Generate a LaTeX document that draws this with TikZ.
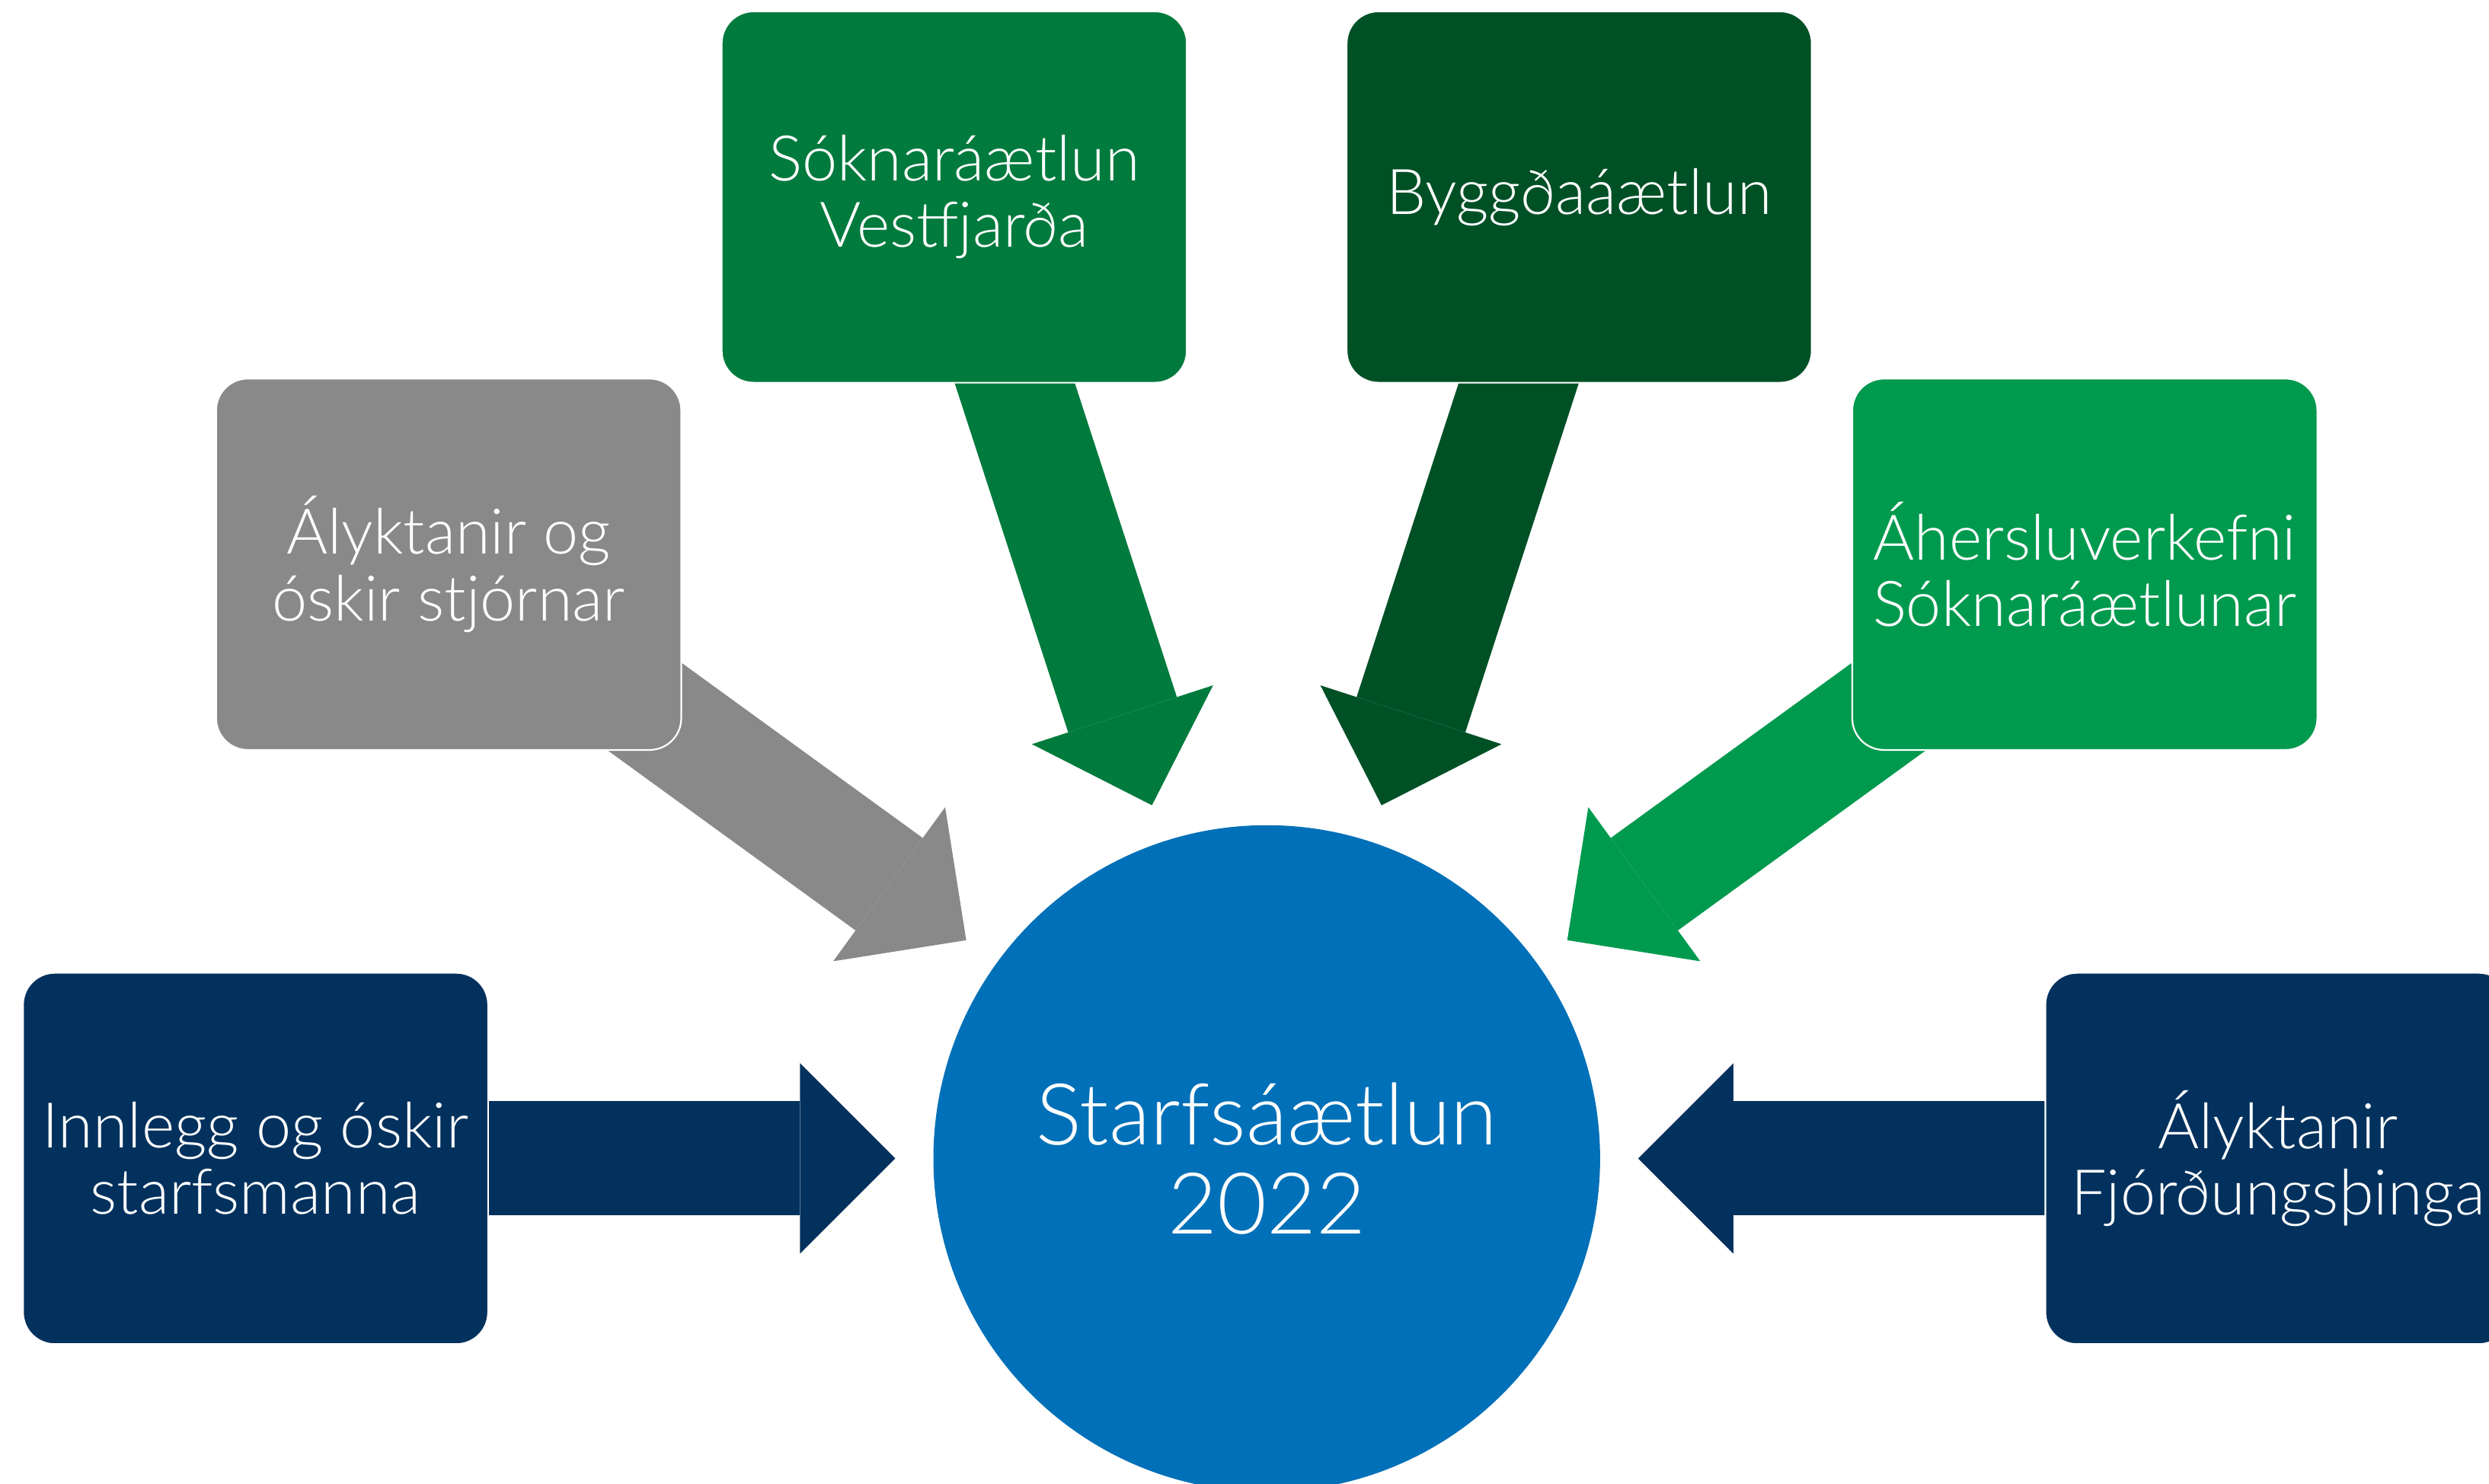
\documentclass[tikz,border=0pt]{standalone}
\usepackage{fontspec}
\setmainfont{Lato}[UprightFont={* Light}]
\usetikzlibrary{calc,arrows.meta,backgrounds}

\definecolor{navy}{RGB}{3,49,93}
\definecolor{grey}{RGB}{137,137,137}
\definecolor{midgreen}{RGB}{0,122,61}
\definecolor{darkgreen}{RGB}{0,80,38}
\definecolor{brightgreen}{RGB}{0,154,78}
\definecolor{hubblue}{RGB}{0,112,184}

\tikzset{
  inbox/.style={rectangle, rounded corners=0.2cm, minimum width=2.93cm,
    minimum height=2.34cm, inner sep=0pt, draw=white, line width=0.3pt,
    text=white, align=center, font=\fontsize{11.3}{11.9}\selectfont},
  feed/.style={line width=0.72cm,
    -{Triangle[length=0.6cm, width=1.2cm, line width=0pt]}},
}

\begin{document}
\begin{tikzpicture}
\clip (0,0) rectangle (15.68,9.35);
% the plan in the middle
\node[circle, fill=hubblue, minimum size=4.2cm, inner sep=0pt, text=white,
  align=center, font=\fontsize{15.3}{15.9}\selectfont] (hub) at (7.98,2.05)
  {Starfsáætlun\\2022};
% sources, every 36 degrees round the hub
\path (hub) ++(180:6.37) node[inbox, fill=navy] (staff) {Innlegg og óskir\\starfsmanna};
\path (hub) ++(144:6.37) node[inbox, fill=grey] (board) {Ályktanir og\\óskir stjórnar};
\path (hub) ++(108:6.37) node[inbox, fill=midgreen] (plan) {Sóknaráætlun\\Vestfjarða};
\path (hub) ++(72:6.37) node[inbox, fill=darkgreen] (region) {Byggðaáætlun};
\path (hub) ++(36:6.37) node[inbox, fill=brightgreen] (focus) {Áhersluverkefni\\Sóknaráætlunar};
\path (hub) ++(0:6.37) node[inbox, fill=navy] (council) {Ályktanir\\Fjórðungsþinga};
% block arrows, behind the boxes
\begin{pgfonlayer}{background}
\foreach \src/\col in {staff/navy, board/grey, plan/midgreen,
    region/darkgreen, focus/brightgreen, council/navy}
  \draw[feed, \col] ($(hub)!5.6cm!(\src)$) -- ($(hub)!2.34cm!(\src)$);
\end{pgfonlayer}
\end{tikzpicture}
\end{document}
